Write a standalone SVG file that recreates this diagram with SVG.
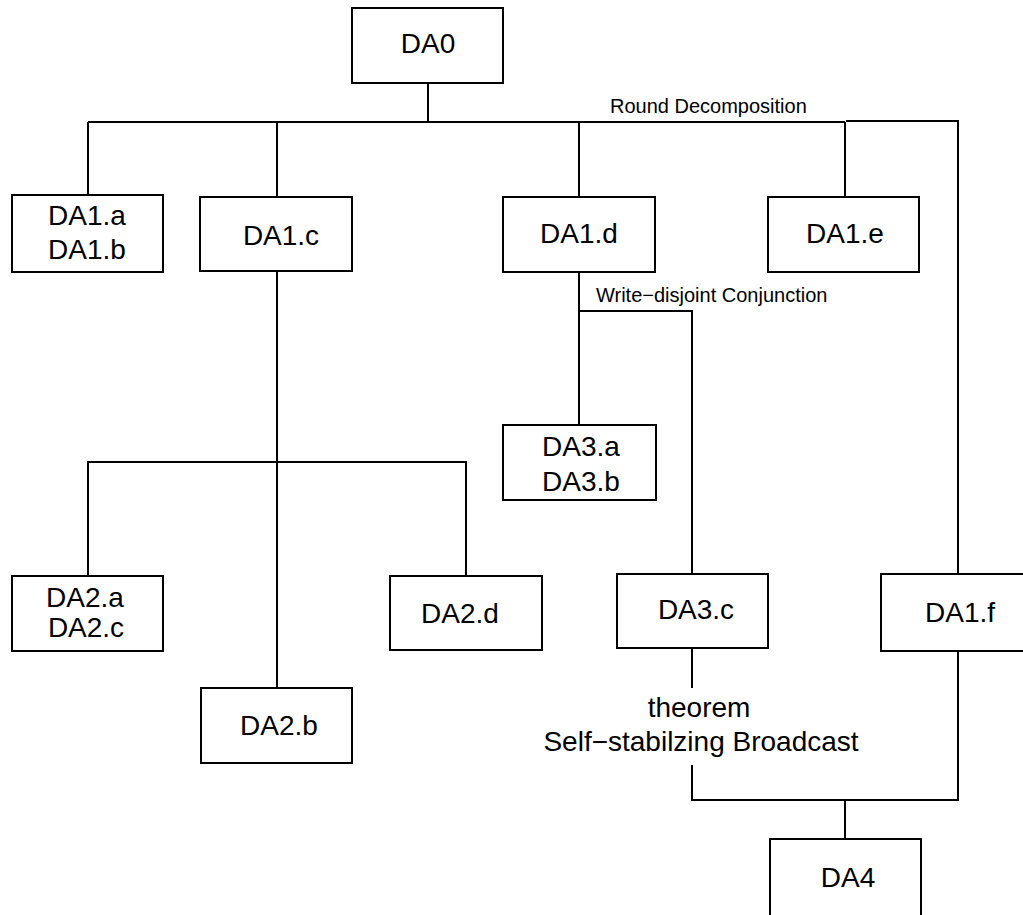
<svg xmlns="http://www.w3.org/2000/svg" width="1023" height="915" viewBox="0 0 1023 915">
<style>
rect.box{fill:#fff;stroke:#000;stroke-width:2}
.lbl{font-family:"Liberation Sans",Arial,sans-serif;font-size:28px;fill:#000;text-anchor:middle}
.sm{font-family:"Liberation Sans",Arial,sans-serif;font-size:20px;fill:#000}
#connectors path{fill:none;stroke:#000;stroke-width:2}
</style>
<rect width="1023" height="915" fill="#fff"/>
<g id="connectors">
<path d="M428,83V122"/>
<path d="M88,122H845"/>
<path d="M88,122V195M277,122V197M579,122V197M845,122V197"/>
<path d="M846,121H958V574"/>
<path d="M277,271V688"/>
<path d="M88,576V462H466V576"/>
<path d="M579,272V425M579,311H692V574"/>
<path d="M692,648V688"/>
<path d="M692,765V800H958V651"/>
<path d="M845,800V839"/>
</g>
<g id="labels">
<text class="sm" x="610" y="113">Round Decomposition</text>
<text class="sm" x="596" y="302">Write−disjoint Conjunction</text>
<text class="lbl" x="699" y="717">theorem</text>
<text class="lbl" x="701" y="751">Self−stabilzing Broadcast</text>
</g>
<g id="DA0"><rect class="box" x="352" y="8" width="151" height="75"/><text class="lbl" x="428" y="53">DA0</text></g>
<g id="DA1ab"><rect class="box" x="12" y="195" width="151" height="77"/><text class="lbl" x="87" y="225">DA1.a</text><text class="lbl" x="87" y="259">DA1.b</text></g>
<g id="DA1c"><rect class="box" x="200" y="197" width="152" height="74"/><text class="lbl" x="281" y="245">DA1.c</text></g>
<g id="DA1d"><rect class="box" x="503" y="197" width="152" height="75"/><text class="lbl" x="579" y="243">DA1.d</text></g>
<g id="DA1e"><rect class="box" x="768" y="197" width="151" height="75"/><text class="lbl" x="845" y="243">DA1.e</text></g>
<g id="DA1f"><rect class="box" x="881" y="574" width="151" height="77"/><text class="lbl" x="960" y="622">DA1.f</text></g>
<g id="DA2ac"><rect class="box" x="12" y="576" width="151" height="75"/><text class="lbl" x="85" y="607">DA2.a</text><text class="lbl" x="86" y="637">DA2.c</text></g>
<g id="DA2d"><rect class="box" x="390" y="576" width="152" height="74"/><text class="lbl" x="460" y="623">DA2.d</text></g>
<g id="DA2b"><rect class="box" x="201" y="688" width="151" height="75"/><text class="lbl" x="279" y="735">DA2.b</text></g>
<g id="DA3ab"><rect class="box" x="503" y="425" width="153" height="75"/><text class="lbl" x="581" y="456">DA3.a</text><text class="lbl" x="581" y="491">DA3.b</text></g>
<g id="DA3c"><rect class="box" x="617" y="574" width="151" height="74"/><text class="lbl" x="696" y="619">DA3.c</text></g>
<g id="DA4"><rect class="box" x="770" y="839" width="151" height="80"/><text class="lbl" x="848" y="887">DA4</text></g>
</svg>
